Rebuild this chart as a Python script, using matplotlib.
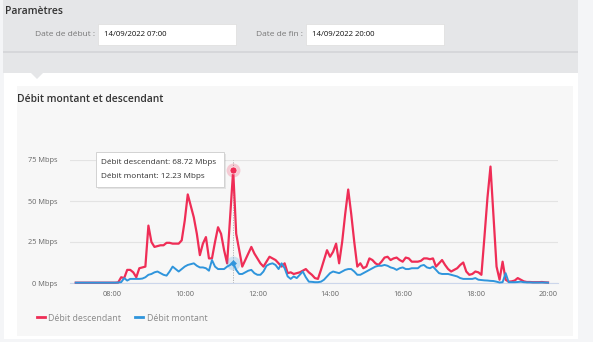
import numpy as np
import pandas as pd
import matplotlib
matplotlib.use('Agg')
import matplotlib.pyplot as plt
import matplotlib.dates as mdates
from matplotlib.patches import Rectangle, Polygon, FancyBboxPatch

plt.rcParams['font.family'] = ['Open Sans', 'DejaVu Sans']

# 5-minute samples, 14/09/2022 07:00 -> 20:00 (one row = one hour)
times = pd.date_range('2022-09-14 07:00', '2022-09-14 20:00', freq='5min')

download = [
    0.2, 0.2, 0.2, 0.2, 0.2, 0.2, 0.2, 0.2, 0.2, 0.2, 0.2, 0.2,
    0.2, 0.2, 0.3, 3.5, 3, 8, 8, 6.5, 3.5, 9, 9.5, 10,
    35, 25, 22, 22.5, 23, 23, 24.5, 24.5, 24, 24, 24, 26,
    38, 54, 47, 40, 30, 17, 24, 28, 15, 15, 25, 34,
    30, 20, 12, 40, 68.72, 30, 20, 10, 14, 18, 22, 18,
    15, 12, 10, 13, 16, 15, 14, 12, 10, 12, 6, 6.5,
    5.5, 6, 6.5, 7.5, 8.5, 6.5, 5, 3, 2.5, 8, 14, 20,
    16, 19, 24, 12, 25, 42, 57, 42, 25, 10, 12, 9,
    10, 15, 14, 12, 11, 13, 15.5, 16, 14, 15, 15.5, 14,
    13, 15.5, 15, 13, 13, 13, 13.5, 15, 15, 14.5, 15, 10,
    12, 14, 11, 8.5, 7, 8, 9, 11, 12.5, 7, 5, 5.5,
    7, 6.5, 5, 28, 52, 71, 40, 10, 2, 13, 2, 0.8,
    1, 1.5, 3, 2, 1, 0.6, 0.6, 0.5, 0.5, 0.5, 0.6, 0.4,
    0.3,
]

upload = [
    0.2, 0.2, 0.2, 0.2, 0.2, 0.2, 0.2, 0.2, 0.2, 0.2, 0.2, 0.2,
    0.2, 0.2, 0.3, 0.5, 3, 1.5, 2.5, 2.5, 2.5, 2.5, 2.7, 3.5,
    5, 5.5, 6.5, 7, 6, 5, 4.5, 7, 10, 8.5, 7, 8.5,
    10, 11, 11.5, 12, 10.5, 9.5, 9.5, 9, 7.5, 14, 10, 8.5,
    8.5, 8.5, 10, 11, 12.23, 8, 5.5, 5.5, 6.5, 7.5, 8, 6,
    5, 5, 7, 10.5, 11.5, 12, 11, 8.5, 12, 9, 4, 2.5,
    4, 3, 5, 7, 3.5, 0.8, 0.7, 0.5, 0.5, 0.8, 2, 4,
    6, 7, 6.5, 6, 7, 8, 8.5, 8.5, 7, 5, 5, 6,
    7, 8, 9, 10, 10.5, 10.5, 11, 10.5, 9.5, 9, 8, 9,
    9.5, 8.5, 8.5, 9, 9, 9, 10.5, 11, 9.5, 9, 10, 8,
    6, 5.5, 5.5, 5.5, 5, 4.5, 4, 3, 2.5, 2.5, 2.5, 2.5,
    3, 2, 1.8, 1.6, 1.5, 1.3, 1.2, 0.8, 0.3, 0.5, 6, 0.5,
    0.5, 0.5, 0.6, 0.8, 0.5, 0.4, 0.4, 0.3, 0.3, 0.3, 0.3, 0.3,
    0.2,
]

y_ticks = [0, 25, 50, 75]
y_labels = ['0 Mbps', '25 Mbps', '50 Mbps', '75 Mbps']
hover_idx = 52  # 11:20
label_down = 'Débit descendant'
label_up = 'Débit montant'

RED = '#ef2d56'
BLUE = '#2f95dc'
W, H = 593, 342

fig = plt.figure(figsize=(W / 100, H / 100), dpi=100)
fig.patch.set_facecolor('#f4f5f7')


def box(x0, y0, x1, y1, **kw):
    # rectangle given in screen pixels (top-left origin)
    r = Rectangle((x0 / W, 1 - y1 / H), (x1 - x0) / W, (y1 - y0) / H,
                  transform=fig.transFigure, **kw)
    fig.add_artist(r)
    return r


def text(x, y, s, **kw):
    fig.text(x / W, 1 - y / H, s, **kw)


# "Paramètres" panel
box(3, 0, 578, 73, facecolor='#e5e6e8', edgecolor='none', zorder=0)
box(3, 51.5, 578, 53, facecolor='#d6d7da', edgecolor='none', zorder=0)
text(5, 12, 'Paramètres', fontsize=7.5, fontweight='semibold', color='#333333', va='center')
text(95, 34, 'Date de début :', fontsize=6, color='#777777', va='center', ha='right')
box(98, 24, 236, 45, facecolor='white', edgecolor='#dddddd', lw=0.5, zorder=1)
text(104, 34.5, '14/09/2022 07:00', fontsize=5.6, color='#111111', va='center')
text(303, 34, 'Date de fin :', fontsize=6, color='#777777', va='center', ha='right')
box(306, 24, 444, 45, facecolor='white', edgecolor='#dddddd', lw=0.5, zorder=1)
text(312, 34.5, '14/09/2022 20:00', fontsize=5.6, color='#111111', va='center')

# chart card
box(4, 73, 578, 339, facecolor='white', edgecolor='none', zorder=0)
fig.add_artist(Polygon([(31 / W, 1 - 73 / H), (43 / W, 1 - 73 / H), (37 / W, 1 - 79 / H)],
                       closed=True, transform=fig.transFigure,
                       facecolor='#e5e6e8', edgecolor='none', zorder=1))
box(17, 86, 573, 336, facecolor='#f7f7f7', edgecolor='none', zorder=0)
text(17, 100, 'Débit montant et descendant', fontsize=7.4, fontweight='semibold',
     color='#333333', va='center')

# plot area
ax_l, ax_r, ax_t, ax_b = 70, 558, 160, 283
ax = fig.add_axes([ax_l / W, 1 - ax_b / H, (ax_r - ax_l) / W, (ax_b - ax_t) / H])
ax.set_facecolor('none')
ax.plot(times, download, color=RED, lw=1.6, solid_joinstyle='round', clip_on=False, zorder=3,
        label=label_down)
ax.plot(times, upload, color=BLUE, lw=1.4, solid_joinstyle='round', clip_on=False, zorder=4,
        label=label_up)

t_hover = times[hover_idx]
ax.axvline(t_hover, ymin=0, ymax=1, color='#aaaaaa', lw=0.6, ls=(0, (1.5, 1.5)), zorder=2)
ax.plot([t_hover], [download[hover_idx]], 'o', ms=10, color=RED, alpha=0.22, mec='none', zorder=5)
ax.plot([t_hover], [download[hover_idx]], 'o', ms=5, color=RED, mec='white', mew=0.4, zorder=6)
ax.plot([t_hover], [upload[hover_idx]], 'o', ms=10, color=BLUE, alpha=0.22, mec='none', zorder=5)
ax.plot([t_hover], [upload[hover_idx]], 'D', ms=3.5, color=BLUE, mec='none', zorder=6)

ax.set_xlim(pd.Timestamp('2022-09-14 06:50:30'), pd.Timestamp('2022-09-14 20:16:30'))
ax.set_ylim(0, 75)
ax.set_yticks(y_ticks)
ax.set_yticklabels(y_labels)
ax.xaxis.set_major_locator(mdates.HourLocator(byhour=range(8, 21, 2)))
ax.xaxis.set_major_formatter(mdates.DateFormatter('%H:%M'))
ax.tick_params(axis='both', length=0, labelsize=5.3, labelcolor='#666666')
ax.tick_params(axis='y', pad=9)
ax.tick_params(axis='x', pad=6)
ax.grid(axis='y', color='#e3e3e3', lw=0.8)
for s in ['top', 'right', 'left']:
    ax.spines[s].set_visible(False)
ax.spines['bottom'].set_color('#ccd6eb')
ax.spines['bottom'].set_linewidth(0.8)

# tooltip
tip = FancyBboxPatch((96 / W, 1 - 187 / H), 128 / W, 35 / H, boxstyle='square,pad=0',
                     transform=fig.transFigure, facecolor='white', edgecolor='#cccccc',
                     lw=0.6, zorder=10)
shadow = FancyBboxPatch((97.5 / W, 1 - 188.5 / H), 128 / W, 35 / H, boxstyle='square,pad=0',
                        transform=fig.transFigure, facecolor='#000000', alpha=0.08,
                        edgecolor='none', zorder=9)
fig.add_artist(shadow)
fig.add_artist(tip)
text(101, 163, '%s: %.2f Mbps' % (label_down, download[hover_idx]), fontsize=5.9,
     color='#333333', va='center', zorder=11)
text(101, 176, '%s: %.2f Mbps' % (label_up, upload[hover_idx]), fontsize=5.9,
     color='#333333', va='center', zorder=11)

# legend
leg = ax.legend(loc='upper left', bbox_to_anchor=((33 - ax_l) / (ax_r - ax_l), -(310 - ax_b) / (ax_b - ax_t)),
                ncol=2, frameon=False, fontsize=6.4, handlelength=0.9, handletextpad=0.4,
                columnspacing=1.6, borderaxespad=0)
for t in leg.get_texts():
    t.set_color('#8a8a8a')
for h in leg.get_lines():
    h.set_linewidth(2)

plt.savefig('out.png', dpi=100, facecolor=fig.get_facecolor())
